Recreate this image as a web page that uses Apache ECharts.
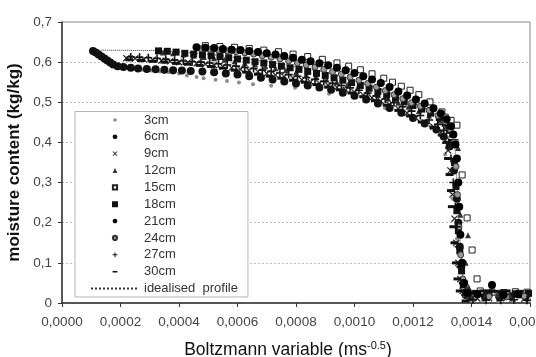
<!DOCTYPE html>
<html><head><meta charset="utf-8">
<script src="https://cdn.jsdelivr.net/npm/echarts@6/dist/echarts.min.js"></script>
<style>html,body{margin:0;padding:0;background:#fff}#c{width:536px;height:357px}</style>
</head><body><div id="c"></div>
<script>
// x values are in units of 1e-4 ms^-0.5, y values in kg/kg
const cm3 = [[1.7,0.592],[1.85,0.590],[2.0,0.588],[2.15,0.587],[2.3,0.585],[2.45,0.584],[2.6,0.582],[2.75,0.581],[2.9,0.580],[3.05,0.579],[3.2,0.578],[3.35,0.577],[3.5,0.576],[3.65,0.575],[3.8,0.574],[4.0,0.572],[4.27,0.567],[4.6,0.563],[4.84,0.560],[5.25,0.556],[5.64,0.553],[6.05,0.549],[6.53,0.545],[7.15,0.541],[7.97,0.536],[9.13,0.521],[11.04,0.486],[12.6,0.44],[13.1,0.37],[13.35,0.26],[13.5,0.16],[13.62,0.08],[13.75,0.03],[13.95,0.008],[14.4,0.006],[14.9,0.005],[15.4,0.006],[15.9,0.005]];
const cm6 = [[1.06,0.628],[1.15,0.624],[1.25,0.619],[1.35,0.614],[1.45,0.609],[1.55,0.604],[1.65,0.599],[1.75,0.594],[1.9,0.590],[2.1,0.588],[2.35,0.586],[2.6,0.584],[2.9,0.583],[3.2,0.582],[3.5,0.581],[3.8,0.580],[4.1,0.579],[4.4,0.578],[4.8,0.577],[5.2,0.575],[5.6,0.572],[6.0,0.569],[6.4,0.565],[6.8,0.561],[7.2,0.557],[7.6,0.552],[8.0,0.547],[8.4,0.542],[8.8,0.537],[9.2,0.531],[9.6,0.524],[10.0,0.516],[10.4,0.507],[10.8,0.497],[11.2,0.486],[11.6,0.474],[12.0,0.461],[12.4,0.447],[12.8,0.432],[13.05,0.415],[13.25,0.39],[13.4,0.33],[13.5,0.26],[13.55,0.20],[13.6,0.14],[13.65,0.09],[13.72,0.05],[13.8,0.02],[14.0,0.016],[14.45,0.017],[14.95,0.016],[15.35,0.017],[15.85,0.016]];
const cm9 = [[2.2,0.610],[2.5,0.609],[2.8,0.607],[3.1,0.606],[3.4,0.604],[3.7,0.602],[4.0,0.600],[4.3,0.599],[4.6,0.597],[4.9,0.595],[5.2,0.592],[5.5,0.589],[5.8,0.586],[6.1,0.582],[6.4,0.579],[6.7,0.576],[7.0,0.572],[7.3,0.568],[7.6,0.564],[7.9,0.560],[8.2,0.556],[8.5,0.551],[8.8,0.547],[9.1,0.542],[9.4,0.537],[9.7,0.531],[10.0,0.525],[10.3,0.518],[10.6,0.511],[10.9,0.503],[11.2,0.494],[11.5,0.484],[11.8,0.473],[12.1,0.461],[12.4,0.450],[12.7,0.439],[12.95,0.425],[13.1,0.405],[13.2,0.38],[13.28,0.33],[13.35,0.27],[13.42,0.21],[13.48,0.15],[13.55,0.10],[13.62,0.06],[13.7,0.03],[13.9,0.012],[14.2,0.011],[14.6,0.012],[15.0,0.012],[15.4,0.011],[15.8,0.010]];
const cm12 = [[3.45,0.624],[3.8,0.622],[4.15,0.619],[4.5,0.616],[4.85,0.613],[5.2,0.610],[5.55,0.606],[5.9,0.602],[6.25,0.598],[6.6,0.594],[6.95,0.590],[7.3,0.585],[7.65,0.580],[8.0,0.575],[8.35,0.569],[8.7,0.563],[9.05,0.557],[9.4,0.550],[9.75,0.543],[10.1,0.535],[10.45,0.527],[10.8,0.518],[11.15,0.509],[11.5,0.499],[11.85,0.489],[12.2,0.478],[12.55,0.467],[12.9,0.455],[13.15,0.44],[13.3,0.42],[13.54,0.386],[13.5,0.30],[13.62,0.22],[13.88,0.169],[13.8,0.10],[13.9,0.04],[14.1,0.02],[14.5,0.019],[14.9,0.021],[15.3,0.020],[15.75,0.019]];
const cm15 = [[4.9,0.641],[5.4,0.639],[5.9,0.637],[6.4,0.634],[6.9,0.630],[7.4,0.626],[7.9,0.620],[8.4,0.614],[8.9,0.607],[9.4,0.598],[9.8,0.590],[10.2,0.581],[10.6,0.571],[11.0,0.560],[11.3,0.550],[11.6,0.540],[11.9,0.530],[12.2,0.519],[12.58,0.501],[12.99,0.476],[13.1,0.463],[13.3,0.455],[13.5,0.443],[13.44,0.40],[13.68,0.319],[13.85,0.212],[14.02,0.132],[14.19,0.060],[14.3,0.030],[14.7,0.027],[15.1,0.026],[15.5,0.028],[15.9,0.027]];
const cm18 = [[3.3,0.628],[3.6,0.627],[3.9,0.625],[4.2,0.622],[4.5,0.620],[4.8,0.618],[5.1,0.616],[5.4,0.614],[5.7,0.611],[6.0,0.608],[6.3,0.605],[6.6,0.601],[6.9,0.598],[7.2,0.594],[7.5,0.590],[7.8,0.586],[8.1,0.582],[8.4,0.577],[8.7,0.572],[9.0,0.567],[9.3,0.561],[9.6,0.555],[9.9,0.549],[10.2,0.542],[10.5,0.535],[10.8,0.527],[11.1,0.519],[11.4,0.510],[11.7,0.501],[12.0,0.492],[12.3,0.483],[12.6,0.473],[12.9,0.462],[13.1,0.448],[13.25,0.43],[13.35,0.40],[13.42,0.35],[13.47,0.29],[13.5,0.23],[13.55,0.18],[13.6,0.13],[13.66,0.08],[13.72,0.045],[13.85,0.025],[14.15,0.024],[14.6,0.025],[15.05,0.024],[15.5,0.023],[15.95,0.024]];
const cm21 = [[4.6,0.637],[4.9,0.636],[5.2,0.635],[5.5,0.633],[5.8,0.631],[6.1,0.630],[6.4,0.628],[6.7,0.625],[7.0,0.622],[7.3,0.619],[7.6,0.615],[7.9,0.611],[8.2,0.606],[8.5,0.602],[8.8,0.597],[9.1,0.592],[9.4,0.586],[9.7,0.580],[10.0,0.573],[10.3,0.565],[10.6,0.557],[10.9,0.548],[11.2,0.538],[11.5,0.527],[11.8,0.517],[12.1,0.507],[12.4,0.497],[12.7,0.485],[12.95,0.472],[13.15,0.458],[13.3,0.440],[13.38,0.420],[13.45,0.395],[13.5,0.36],[13.55,0.30],[13.58,0.24],[13.62,0.17],[13.68,0.10],[13.75,0.05],[13.85,0.025],[14.2,0.022],[14.7,0.045],[15.1,0.020],[15.6,0.021]];
const cm24 = [[4.75,0.633],[5.05,0.632],[5.35,0.630],[5.65,0.628],[5.95,0.626],[6.25,0.623],[6.55,0.620],[6.85,0.616],[7.15,0.612],[7.45,0.608],[7.75,0.603],[8.05,0.598],[8.35,0.593],[8.65,0.588],[8.95,0.582],[9.25,0.576],[9.55,0.570],[9.85,0.563],[10.15,0.555],[10.45,0.547],[10.75,0.538],[11.05,0.529],[11.35,0.519],[11.65,0.509],[11.95,0.499],[12.25,0.490],[12.55,0.480],[12.85,0.467],[13.1,0.452],[13.28,0.432],[13.4,0.40],[13.47,0.34],[13.52,0.27],[13.57,0.19],[13.63,0.12],[13.7,0.06],[13.8,0.02],[14.1,0.015],[14.6,0.016],[15.2,0.015],[15.8,0.017]];
const cm27 = [[2.35,0.613],[2.65,0.612],[2.95,0.611],[3.25,0.609],[3.55,0.607],[3.85,0.605],[4.15,0.603],[4.45,0.601],[4.75,0.600],[5.05,0.598],[5.35,0.596],[5.65,0.593],[5.95,0.590],[6.25,0.587],[6.55,0.584],[6.85,0.580],[7.15,0.577],[7.45,0.573],[7.75,0.569],[8.05,0.565],[8.35,0.561],[8.65,0.557],[8.95,0.552],[9.25,0.547],[9.55,0.542],[9.85,0.536],[10.15,0.530],[10.45,0.523],[10.75,0.516],[11.05,0.508],[11.35,0.499],[11.65,0.489],[11.95,0.478],[12.25,0.467],[12.55,0.456],[12.85,0.445],[13.05,0.43],[13.22,0.40],[13.3,0.36],[13.38,0.30],[13.45,0.24],[13.5,0.19],[13.56,0.14],[13.62,0.09],[13.7,0.05],[13.78,0.02],[14.05,0.008],[14.5,0.007],[15.0,0.007],[15.45,0.008],[15.9,0.007]];
const cm30 = [[2.3,0.606],[2.7,0.604],[3.1,0.602],[3.5,0.600],[3.9,0.597],[4.3,0.595],[4.7,0.592],[5.1,0.589],[5.5,0.585],[5.9,0.580],[6.3,0.575],[6.7,0.570],[7.1,0.565],[7.5,0.560],[7.9,0.555],[8.3,0.550],[8.7,0.544],[9.1,0.538],[9.5,0.531],[9.9,0.523],[10.3,0.514],[10.7,0.504],[11.1,0.493],[11.5,0.480],[11.9,0.466],[12.3,0.451],[12.7,0.437],[13.0,0.418],[13.15,0.40],[13.2,0.36],[13.25,0.32],[13.3,0.28],[13.33,0.24],[13.38,0.19],[13.42,0.15],[13.47,0.10],[13.52,0.06],[13.6,0.03],[13.8,0.005],[14.0,0.028],[14.4,0.030],[14.8,0.029],[15.2,0.030],[15.65,0.029]];
const idealised = [[1.0,0.630],[3.3,0.629],[5.0,0.620],[7.0,0.602],[9.0,0.575],[11.0,0.530],[12.5,0.482],[13.2,0.450],[13.44,0.380],[13.52,0.270],[13.61,0.157],[13.71,0.057],[13.85,0.025],[14.0,0.020],[16.0,0.020]];

const seriesNames = ['3cm','6cm','9cm','12cm','15cm','18cm','21cm','24cm','27cm','30cm'];
const seriesData = [cm3, cm6, cm9, cm12, cm15, cm18, cm21, cm24, cm27, cm30];
const lineName = 'idealised  profile';
const xMin = 0, xMax = 0.0016, xStep = 0.0002;
const yMin = 0, yMax = 0.7, yStep = 0.1;

const FONT = 'Liberation Sans, Arial, Helvetica, sans-serif';
const xPath = 'path://M0,1.2L1.2,0L5,3.8L8.8,0L10,1.2L6.2,5L10,8.8L8.8,10L5,6.2L1.2,10L0,8.8L3.8,5Z';
const plusPath = 'path://M4,0H6V4H10V6H6V10H4V6H0V4H4Z';
const dashPath = 'path://M0,0H10V4H0Z';
const triPath = 'path://M5,0L10,9H0Z';
const sqPath = 'path://M0,0H10V10H0Z';
const legendIcons = {
  '3cm': 'path://M0,0M10,10M5,2A3,3,0,1,1,4.99,2Z',
  '6cm': 'path://M0,0M10,10M5,1A4,4,0,1,1,4.99,1Z',
  '9cm': 'path://M0,0M10,10M1,2L2,1L5,4L8,1L9,2L6,5L9,8L8,9L5,6L2,9L1,8L4,5Z',
  '12cm': 'path://M0,0M10,10M5,1L9,9H1Z',
  '15cm': 'path://M0,0M10,10M1.5,1.5H8.5V8.5H1.5Z',
  '18cm': 'path://M0,0H10V10H0Z',
  '21cm': 'path://M0,0M10,10M5,1A4,4,0,1,1,4.99,1Z',
  '24cm': 'path://M0,0M10,10M5,1.5A3.5,3.5,0,1,1,4.99,1.5Z',
  '27cm': 'path://M0,0M10,10M4.2,1H5.8V4.2H9V5.8H5.8V9H4.2V5.8H1V4.2H4.2Z',
  '30cm': 'path://M0,0M10,10M1,3.8H9V6.4H1Z'
};

const styles = [
  {symbol:'circle', size:4, z:2, itemStyle:{color:'#8c8c8c', opacity:1}},
  {symbol:'circle', size:8, z:2, itemStyle:{color:'#111', opacity:1}},
  {symbol:xPath, size:7, z:2, itemStyle:{color:'#222', opacity:1}},
  {symbol:triPath, size:6, z:2, itemStyle:{color:'#333', opacity:1}},
  {symbol:sqPath, size:6, z:2, itemStyle:{color:'#fff', borderColor:'#222', borderWidth:1, opacity:1}},
  {symbol:sqPath, size:7, z:2, itemStyle:{color:'#111', opacity:1}},
  {symbol:'circle', size:8, z:3, itemStyle:{color:'#000', opacity:1}},
  {symbol:'circle', size:6, z:2, itemStyle:{color:'#999', borderColor:'#333', borderWidth:1, opacity:1}},
  {symbol:plusPath, size:8, z:2, itemStyle:{color:'#111', opacity:1}},
  {symbol:dashPath, size:[8,3], z:2, itemStyle:{color:'#111', opacity:1}}
];

const toXY = arr => arr.map(p => [p[0] * 1e-4, p[1]]);

const series = seriesNames.map((n, i) => ({
  name: n, type: 'scatter', data: toXY(seriesData[i]), z: styles[i].z,
  symbol: styles[i].symbol, symbolSize: styles[i].size, itemStyle: styles[i].itemStyle,
  animation: false, clip: true
}));
series.push({
  name: lineName, type: 'line', data: toXY(idealised), symbol: 'none', showSymbol: false,
  lineStyle: {color:'#333', width:1, type:'dotted'}, itemStyle: {color:'rgba(0,0,0,0)'},
  animation: false, z: 1
});

const chart = echarts.init(document.getElementById('c'), null, {renderer:'canvas'});
chart.setOption({
  backgroundColor: '#fff',
  animation: false,
  textStyle: {fontFamily: FONT},
  grid: {left: 62, right: 6, top: 22, bottom: 54, outerBoundsMode: 'none', containLabel: false,
    show: true, borderColor: '#8a8a8a', borderWidth: 1, backgroundColor: '#fff'},
  xAxis: {
    type: 'value', min: xMin, max: xMax, interval: xStep,
    name: 'Boltzmann variable (ms{sup|-0.5})', nameLocation: 'middle', nameGap: 37,
    nameTextStyle: {fontFamily: FONT, fontSize: 17.5, color: '#111', lineHeight: 20, padding: [0, 16, 0, 0],
      rich: {sup: {fontFamily: FONT, fontSize: 11, color: '#111', verticalAlign: 'top', lineHeight: 12}}},
    axisLine: {show: true, lineStyle: {color: '#333', width: 1.5}},
    axisTick: {show: true, inside: false, length: 4, lineStyle: {color: '#333'}},
    axisLabel: {fontFamily: FONT, fontSize: 13.5, color: '#444', margin: 12, hideOverlap: false,
      formatter: v => v.toFixed(4).replace('.', ',')},
    splitLine: {show: false}
  },
  yAxis: {
    type: 'value', min: yMin, max: yMax, interval: yStep,
    name: 'moisture content (kg/kg)', nameLocation: 'middle', nameGap: 35, nameRotate: 90,
    nameTextStyle: {fontFamily: FONT, fontSize: 17, fontWeight: 'bold', color: '#111'},
    axisLine: {show: true, lineStyle: {color: '#333', width: 1.5}},
    axisTick: {show: true, inside: false, length: 4, lineStyle: {color: '#333'}},
    axisLabel: {fontFamily: FONT, fontSize: 13.5, color: '#444', margin: 10,
      formatter: v => v === 0 ? '0' : v.toFixed(1).replace('.', ',')},
    splitLine: {show: true, lineStyle: {color: '#bdbdbd', width: 1, type: [2, 2]}}
  },
  legend: {
    orient: 'vertical', left: 75, top: 111.5, z: 10,
    padding: [0, 10, 0, 15], itemWidth: 48, itemHeight: 6, itemGap: 0,
    backgroundColor: '#fff', borderColor: '#b5b5b5', borderWidth: 1,
    selectedMode: false,
    textStyle: {fontFamily: FONT, fontSize: 13, color: '#333', lineHeight: 16.86},
    data: seriesNames.map(n => legendIcons[n] ? {name: n, icon: legendIcons[n]} : n).concat([lineName])
  },
  series: series
});
</script></body></html>
